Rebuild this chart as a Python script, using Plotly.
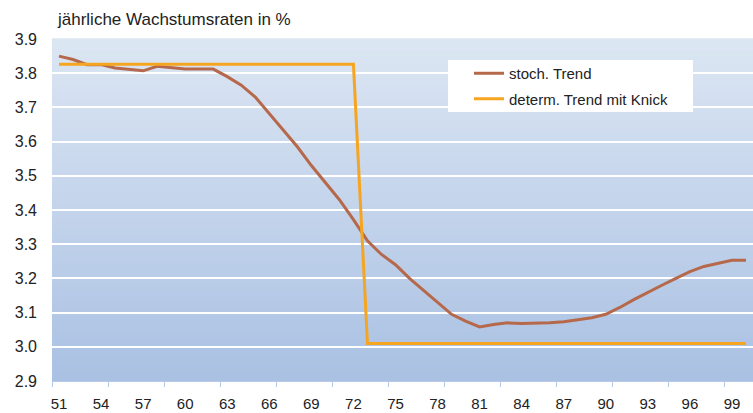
import plotly.graph_objects as go

years = list(range(51, 101))
stoch_trend = [3.850, 3.840, 3.825, 3.825, 3.815, 3.810, 3.807, 3.820, 3.815, 3.812,
               3.812, 3.812, 3.790, 3.765, 3.730, 3.682, 3.635, 3.585, 3.530, 3.480,
               3.430, 3.372, 3.310, 3.270, 3.240, 3.200, 3.165, 3.130, 3.095, 3.075,
               3.058, 3.065, 3.070, 3.068, 3.068, 3.070, 3.073, 3.078, 3.085, 3.095,
               3.115, 3.138, 3.160, 3.180, 3.200, 3.220, 3.235, 3.245, 3.253, 3.253]
determ_trend = [3.826] * 22 + [3.010] * 28
x_tick_labels = list(range(51, 101, 3))
y_ticks = [2.9, 3.0, 3.1, 3.2, 3.3, 3.4, 3.5, 3.6, 3.7, 3.8, 3.9]

W, H = 753, 413
ML, MR, MT, MB = 52, 0, 39, 32
PW = W - ML - MR
PH = H - MT - MB

FONT = "Liberation Sans, Arial, sans-serif"
TXT = "#222222"

fig = go.Figure()
fig.add_trace(go.Scatter(x=years, y=stoch_trend, mode="lines", name="stoch. Trend",
                         line=dict(color="#B5694A", width=3), legendgroup="a"))
fig.add_trace(go.Scatter(x=years, y=determ_trend, mode="lines", name="determ. Trend mit Knick",
                         line=dict(color="#F6A521", width=3), legendgroup="b"))

# vertical gradient background
top = (220, 230, 243)
bot = (170, 193, 227)
N = 80
shapes = []
for i in range(N):
    t = i / (N - 1)
    c = tuple(round(bot[k] + (top[k] - bot[k]) * t) for k in range(3))
    shapes.append(dict(type="rect", xref="x domain", yref="y domain",
                       x0=0, x1=1, y0=i / N, y1=(i + 1) / N + 0.002,
                       fillcolor="rgb(%d,%d,%d)" % c, line=dict(width=0), layer="below"))

def px_x(p):
    return (p - ML) / PW
def px_y(p):
    return 1 - (p - MT) / PH

# legend white box
shapes.append(dict(type="rect", xref="paper", yref="paper",
                   x0=px_x(448), x1=px_x(693), y0=px_y(112), y1=px_y(60),
                   fillcolor="white", line=dict(width=0), layer="above"))

fig.update_layout(
    width=W, height=H,
    margin=dict(l=ML, r=MR, t=MT, b=MB, autoexpand=False),
    paper_bgcolor="white", plot_bgcolor="#c4d3ea",
    font=dict(family=FONT, size=15, color=TXT),
    shapes=shapes,
    showlegend=True,
    legend=dict(x=px_x(469), y=px_y(57), xanchor="left", yanchor="top",
                bgcolor="rgba(0,0,0,0)", borderwidth=0,
                font=dict(family=FONT, size=15, color=TXT),
                tracegroupgap=3),
    annotations=[dict(text="jährliche Wachstumsraten in %", xref="paper", yref="paper",
                      x=px_x(55), y=px_y(20), xanchor="left", yanchor="middle",
                      showarrow=False, font=dict(family=FONT, size=17, color=TXT))],
)

fig.update_xaxes(range=[50.5, 100.5], tickmode="array", tickvals=x_tick_labels,
                 ticktext=[str(v) for v in x_tick_labels], ticks="", showgrid=False,
                 zeroline=False, showline=True, linecolor="#b7c9e6", linewidth=1,
                 ticklabelstandoff=9, automargin=False,
                 minor=dict(tickmode="array", tickvals=[50.5 + 4 * k for k in range(13)],
                            ticks="outside", ticklen=5, tickcolor="#b7c9e6", tickwidth=1,
                            showgrid=False),
                 tickfont=dict(family=FONT, size=15, color=TXT))
fig.update_yaxes(range=[2.9, 3.9], tickmode="array", tickvals=y_ticks,
                 ticktext=["%.1f" % v for v in y_ticks], ticks="",
                 showgrid=True, gridcolor="white", gridwidth=2, zeroline=False,
                 showline=False, ticklabelstandoff=14, automargin=False,
                 tickfont=dict(family=FONT, size=16, color=TXT))

fig.write_html("out.html", config={"displayModeBar": False},
               post_script="document.body.style.margin='0';document.body.style.padding='0';"
                           "document.body.style.overflow='hidden';")
